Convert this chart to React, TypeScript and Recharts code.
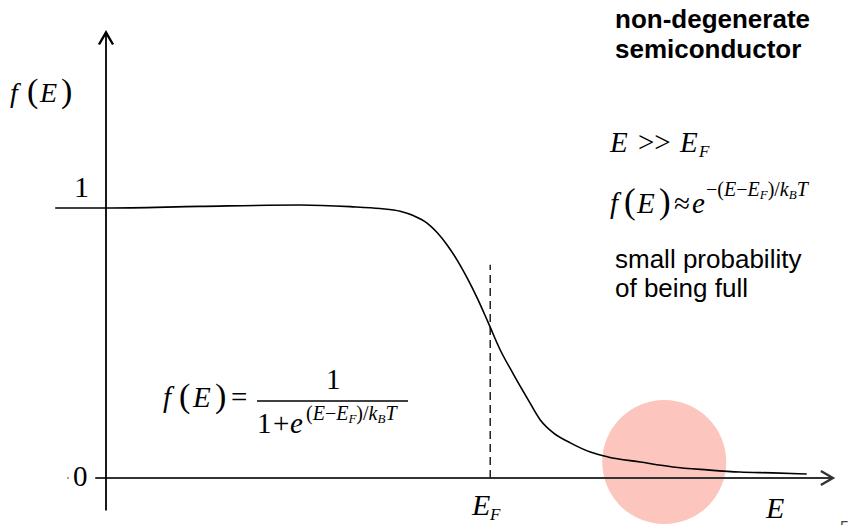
import React from "react";
import {
  ComposedChart,
  Line,
  XAxis,
  YAxis,
  ReferenceLine,
  ReferenceDot,
} from "recharts";

// energy values (arbitrary units, Fermi level ~5)
const energy = [
  -0.66, 0, 1.22, 2.52, 3.17, 3.56, 3.82, 3.99, 4.17, 4.3, 4.43, 4.56, 4.69,
  4.82, 4.96, 5.12, 5.29, 5.47, 5.64, 5.81, 6.03, 6.29, 6.52, 6.94, 7.36, 7.81,
  8.23, 8.66, 9.1,
];
// occupation probability f(E) at each energy
const occupancy = [
  1.0, 1.0, 1.006, 1.011, 1.005, 0.998, 0.988, 0.972, 0.944, 0.909, 0.863,
  0.807, 0.741, 0.667, 0.578, 0.474, 0.385, 0.296, 0.215, 0.167, 0.13, 0.096,
  0.078, 0.059, 0.041, 0.03, 0.022, 0.019, 0.015,
];

const fermiLevel = 4.99;
const dashedTop = 0.79;
const xAxisRange = [-0.14, 9.44];
const yAxisRange = [-0.12, 1.65];
const highlight = { E: 7.25, f: 0.059 };

const data = energy.map((E, i) => ({ E, f: occupancy[i] }));

const SERIF = "'Liberation Serif', 'Times New Roman', serif";
const SANS = "'Liberation Sans', Arial, sans-serif";

const W = 851;
const H = 525;
const MARGIN = { top: 5.5, right: 5.8, left: 29, bottom: 6.5 };
const X_DOMAIN = [-1, 9.6];
const Y_DOMAIN = [-0.15, 1.75];

// line with an open chevron at its second end point
const ArrowLine = (props: any) => {
  const { x1, y1, x2, y2, stroke, strokeWidth } = props;
  const dx = x2 - x1;
  const dy = y2 - y1;
  const len = Math.sqrt(dx * dx + dy * dy) || 1;
  const ux = dx / len;
  const uy = dy / len;
  const back = 12;
  const half = 7;
  const bx = x2 - ux * back;
  const by = y2 - uy * back;
  return (
    <g>
      <line x1={x1} y1={y1} x2={x2} y2={y2} stroke={stroke} strokeWidth={strokeWidth} />
      <polyline
        points={`${bx - uy * half},${by + ux * half} ${x2},${y2} ${bx + uy * half},${by - ux * half}`}
        fill="none"
        stroke={stroke}
        strokeWidth={2.4}
      />
    </g>
  );
};

const layer: React.CSSProperties = { position: "absolute", left: 0, top: 0 };

export default function App() {
  return (
    <div
      style={{
        position: "absolute",
        left: 0,
        top: 0,
        width: W,
        height: H,
        background: "#fff",
        overflow: "hidden",
      }}>
      {/* highlight circle sits underneath the curve and axes */}
      <div style={layer}>
        <ComposedChart width={W} height={H} data={data} margin={MARGIN}>
          <XAxis type="number" dataKey="E" domain={X_DOMAIN} hide />
          <YAxis type="number" domain={Y_DOMAIN} hide />
          <Line
            dataKey="f"
            stroke="none"
            strokeOpacity={0}
            dot={false}
            isAnimationActive={false}
          />
          <ReferenceDot
            x={highlight.E}
            y={highlight.f}
            r={62}
            fill="#fcc5bd"
            stroke="none"
          />
        </ComposedChart>
      </div>

      <div style={layer}>
        <ComposedChart width={W} height={H} data={data} margin={MARGIN}>
          <XAxis type="number" dataKey="E" domain={X_DOMAIN} hide />
          <YAxis type="number" domain={Y_DOMAIN} hide />
          <ReferenceLine
            segment={[
              { x: xAxisRange[0], y: 0 },
              { x: xAxisRange[1], y: 0 },
            ]}
            stroke="#333"
            strokeWidth={2}
            shape={ArrowLine}
          />
          <ReferenceLine
            segment={[
              { x: 0, y: yAxisRange[0] },
              { x: 0, y: yAxisRange[1] },
            ]}
            stroke="#000"
            strokeWidth={1.8}
            shape={ArrowLine}
          />
          <ReferenceLine
            segment={[
              { x: fermiLevel, y: 0 },
              { x: fermiLevel, y: dashedTop },
            ]}
            stroke="#222"
            strokeWidth={1.5}
            strokeDasharray="8 5"
          />
          <Line
            dataKey="f"
            type="monotone"
            stroke="#000"
            strokeWidth={1.6}
            dot={false}
            isAnimationActive={false}
          />
        </ComposedChart>
      </div>

      <svg width={W} height={H} style={{ ...layer, pointerEvents: "none" }}>
        {/* axis title */}
        <text y={102} fontFamily={SERIF} fontSize={28} fill="#000">
          <tspan x={10} fontStyle="italic">f</tspan>
          <tspan x={27} fontSize={34}>(</tspan>
          <tspan x={40} fontStyle="italic">E</tspan>
          <tspan x={61} fontSize={34}>)</tspan>
        </text>
        <text x={74} y={197} fontFamily={SERIF} fontSize={30} fill="#000">1</text>
        <text x={73} y={486} fontFamily={SERIF} fontSize={29} fill="#000">0</text>
        <circle cx={68} cy={478} r={1} fill="#888" />

        <text y={515} fontFamily={SERIF} fontSize={30} fontStyle="italic" fill="#000">
          <tspan x={472}>E</tspan>
          <tspan x={490} dy={5} fontSize={17}>F</tspan>
        </text>
        <text x={766} y={518} fontFamily={SERIF} fontSize={30} fontStyle="italic" fill="#000">
          E
        </text>
        <text x={840} y={533} fontFamily={SANS} fontSize={16} fill="#444">5</text>

        {/* Fermi-Dirac formula */}
        <text y={407} fontFamily={SERIF} fontSize={29} fill="#000">
          <tspan x={163} fontStyle="italic">f</tspan>
          <tspan x={179} fontSize={34}>(</tspan>
          <tspan x={193} fontStyle="italic">E</tspan>
          <tspan x={215} fontSize={34}>)</tspan>
          <tspan x={231}>=</tspan>
        </text>
        <text x={326} y={389} fontFamily={SERIF} fontSize={29} fill="#000">1</text>
        <line x1={257} y1={401} x2={408} y2={401} stroke="#000" strokeWidth={1.5} />
        <text y={433} fontFamily={SERIF} fontSize={29} fill="#000">
          <tspan x={257}>1</tspan>
          <tspan x={273}>+</tspan>
          <tspan x={290} fontStyle="italic">e</tspan>
        </text>
        <text x={306} y={420} fontFamily={SERIF} fontSize={20} fill="#000">
          (<tspan fontStyle="italic">E</tspan>−<tspan fontStyle="italic">E</tspan>
          <tspan fontSize={13} dy={3} fontStyle="italic">F</tspan>
          <tspan dy={-3}>)/</tspan>
          <tspan fontStyle="italic">k</tspan>
          <tspan fontSize={13} dy={3} fontStyle="italic">B</tspan>
          <tspan dy={-3} fontStyle="italic">T</tspan>
        </text>

        {/* right hand notes */}
        <text x={615} y={28} fontFamily={SANS} fontSize={26} fontWeight="bold" fill="#000">
          non-degenerate
        </text>
        <text x={615} y={58} fontFamily={SANS} fontSize={26} fontWeight="bold" fill="#000">
          semiconductor
        </text>

        <text y={152} fontFamily={SERIF} fontSize={29} fill="#000">
          <tspan x={610} fontStyle="italic">E</tspan>
          <tspan x={638}>&gt;&gt;</tspan>
          <tspan x={680} fontStyle="italic">E</tspan>
          <tspan x={699} dy={5} fontSize={17} fontStyle="italic">F</tspan>
        </text>

        <text y={213} fontFamily={SERIF} fontSize={29} fill="#000">
          <tspan x={610} fontStyle="italic">f</tspan>
          <tspan x={624} fontSize={35}>(</tspan>
          <tspan x={637} fontStyle="italic">E</tspan>
          <tspan x={659} fontSize={35}>)</tspan>
          <tspan x={674}>≈</tspan>
          <tspan x={692} fontStyle="italic">e</tspan>
        </text>
        <text x={706} y={196} fontFamily={SERIF} fontSize={20} fill="#000">
          −(<tspan fontStyle="italic">E</tspan>−<tspan fontStyle="italic">E</tspan>
          <tspan fontSize={13} dy={3} fontStyle="italic">F</tspan>
          <tspan dy={-3}>)/</tspan>
          <tspan fontStyle="italic">k</tspan>
          <tspan fontSize={13} dy={3} fontStyle="italic">B</tspan>
          <tspan dy={-3} fontStyle="italic">T</tspan>
        </text>

        <text x={615} y={268} fontFamily={SANS} fontSize={26} fill="#000">
          small probability
        </text>
        <text x={615} y={297} fontFamily={SANS} fontSize={26} fill="#000">
          of being full
        </text>
      </svg>
    </div>
  );
}
